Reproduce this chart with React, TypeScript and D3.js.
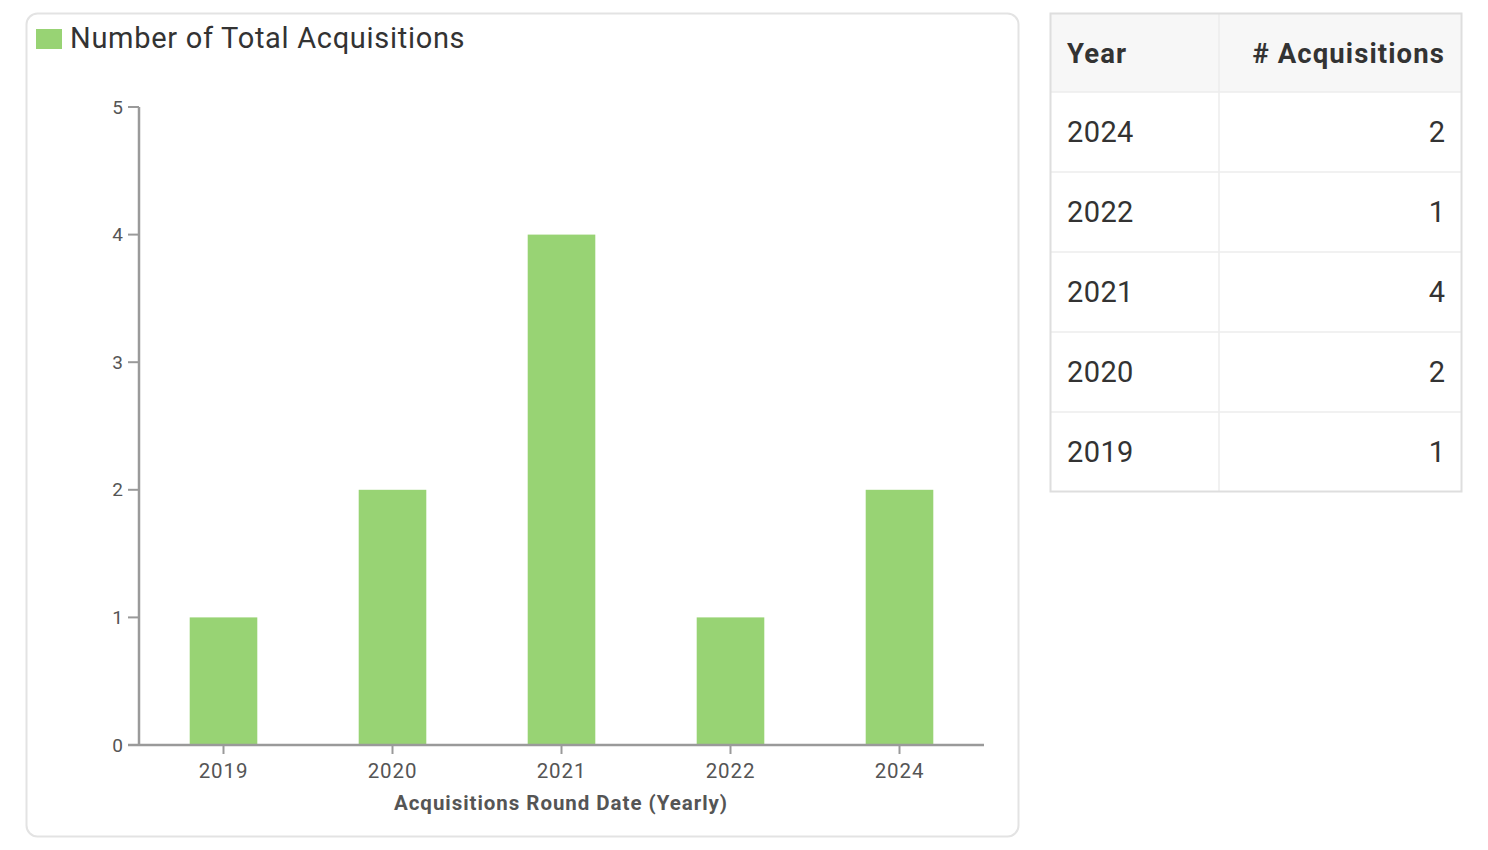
import React from "react";
import * as d3 from "d3";

const years = ["2019", "2020", "2021", "2022", "2024"];
const acquisitions = [1, 2, 4, 1, 2];
const yTicks = [0, 1, 2, 3, 4, 5];
const tableYears = ["2024", "2022", "2021", "2020", "2019"];
const tableCounts = [2, 1, 4, 2, 1];

const legendLabel = "Number of Total Acquisitions";
const xTitle = "Acquisitions Round Date (Yearly)";
const tableHeaders = ["Year", "# Acquisitions"];

const W = 1488;
const H = 850;
const BAR = "#98d374";
const AXIS = "#9a9a9a";
const FONT = "Roboto, 'Noto Sans', sans-serif";

export default function App() {
  const x = d3
    .scaleBand<string>()
    .domain(years)
    .range([139, 984])
    .paddingInner(0.6)
    .paddingOuter(0.3);
  const y = d3.scaleLinear().domain([0, 5]).range([745, 107]);

  const tX0 = 1050;
  const tX1 = 1462;
  const tColDiv = 1219;
  const headerTop = 13;
  const headerH = 79;
  const rowH = 80;
  const tBottom = headerTop + headerH + rowH * tableYears.length;

  return (
    <div style={{ position: "absolute", left: 0, top: 0 }}>
      <svg width={W} height={H} style={{ display: "block", fontFamily: FONT }}>
        <rect x={0} y={0} width={W} height={H} fill="#fff" />
        {/* chart card */}
        <rect x={26.5} y={13.5} width={992} height={823} rx={11} fill="#fff" stroke="#e3e3e3" strokeWidth={2} />
        {/* legend */}
        <rect x={36} y={29} width={26} height={20} fill={BAR} />
        <text x={70} y={48} fontSize={29} letterSpacing={0.7} fill="#333">{legendLabel}</text>

        {/* bars */}
        {years.map((yr, i) => (
          <rect
            key={yr}
            x={x(yr)!}
            y={y(acquisitions[i])}
            width={x.bandwidth()}
            height={y(0) - y(acquisitions[i])}
            fill={BAR}
          />
        ))}

        {/* y axis */}
        <line x1={139} x2={139} y1={y(5)} y2={y(0)} stroke={AXIS} strokeWidth={2.5} />
        {yTicks.map((t) => (
          <g key={t}>
            <line x1={128} x2={139} y1={y(t)} y2={y(t)} stroke={AXIS} strokeWidth={2} />
            <text x={123} y={y(t)} dy="0.35em" textAnchor="end" fontSize={19} fill="#555">
              {t}
            </text>
          </g>
        ))}

        {/* x axis */}
        <line x1={128} x2={984} y1={y(0)} y2={y(0)} stroke={AXIS} strokeWidth={2.5} />
        {years.map((yr) => {
          const cx = x(yr)! + x.bandwidth() / 2;
          return (
            <g key={yr}>
              <line x1={cx} x2={cx} y1={y(0)} y2={y(0) + 9} stroke={AXIS} strokeWidth={2} />
              <text x={cx} y={778} textAnchor="middle" fontSize={20.5} letterSpacing={0.9} fill="#555">
                {yr}
              </text>
            </g>
          );
        })}
        <text x={561} y={810} textAnchor="middle" fontSize={20.5} letterSpacing={0.95} fontWeight="bold" fill="#555">
          {xTitle}
        </text>

        {/* table */}
        <rect x={tX0} y={headerTop} width={tX1 - tX0} height={headerH} fill="#f7f7f7" />
        {tableYears.map((yr, i) => {
          const top = headerTop + headerH + i * rowH;
          return (
            <g key={yr}>
              <line x1={tX0} x2={tX1} y1={top} y2={top} stroke="#ececec" strokeWidth={1.5} />
              <text x={1067} y={top + rowH / 2 + 10} fontSize={29} letterSpacing={0.4} fill="#333">
                {yr}
              </text>
              <text x={1445} y={top + rowH / 2 + 10} textAnchor="end" fontSize={29} fill="#333">
                {tableCounts[i]}
              </text>
            </g>
          );
        })}
        <line x1={tColDiv} x2={tColDiv} y1={headerTop} y2={tBottom} stroke="#ececec" strokeWidth={1.5} />
        <rect x={tX0 + 0.5} y={headerTop + 0.5} width={tX1 - tX0 - 1} height={tBottom - headerTop - 1} fill="none" stroke="#dedede" strokeWidth={2} />
        <text x={1067} y={63} fontSize={27.5} letterSpacing={1.1} fontWeight="bold" fill="#333">
          {tableHeaders[0]}
        </text>
        <text x={1445} y={63} textAnchor="end" fontSize={27.5} letterSpacing={1.1} fontWeight="bold" fill="#333">
          {tableHeaders[1]}
        </text>
      </svg>
    </div>
  );
}
